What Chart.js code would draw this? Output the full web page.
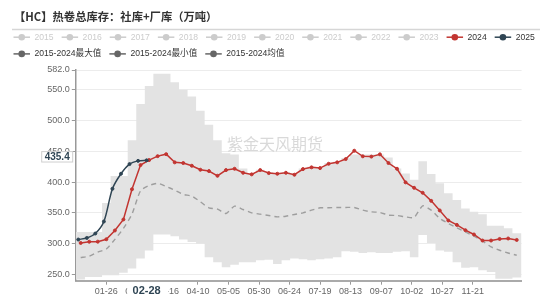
<!DOCTYPE html>
<html><head><meta charset="utf-8">
<script src="https://cdn.jsdelivr.net/npm/chart.js@4.4.1/dist/chart.umd.min.js"></script>
<style>html,body{margin:0;padding:0;background:#fff;overflow:hidden}canvas{display:block}</style>
</head><body>
<canvas id="c" width="550" height="299"></canvas>
<script>
const titleText = '【HC】热卷总库存：社库+厂库（万吨）';
const watermarkText = '紫金天风期货';
const legendRow1 = ['2015','2016','2017','2018','2019','2020','2021','2022','2023','2024','2025'];
const legendRow2 = ['2015-2024最大值','2015-2024最小值','2015-2024均值'];

const dates2024 = ['01-05','01-12','01-19','01-26','02-02','02-09','02-16','02-23','03-01','03-08','03-15','03-22','03-29',
  '04-05','04-12','04-19','04-26','05-03','05-10','05-17','05-24','05-31','06-07','06-14','06-21','06-28',
  '07-05','07-12','07-19','07-26','08-02','08-09','08-16','08-23','08-30','09-06','09-13','09-20','09-27',
  '10-04','10-11','10-18','10-25','11-01','11-08','11-15','11-22','11-29','12-06','12-13','12-20','12-27'];
const values2024 = [301.3,303.3,303.4,307.3,321.5,339.4,388.4,427.7,435.8,442.2,445.4,432.1,431.0,
  426.6,420.1,418.0,410.3,419.6,421.7,415.2,412.6,419.6,414.7,413.6,415.2,412.0,
  421.2,424.0,422.8,429.8,432.1,437.5,451.0,441.9,441.4,445.1,431.0,421.7,399.6,
  390.8,382.7,369.6,354.0,337.7,330.6,322.0,315.0,305.2,305.2,307.8,308.5,306.2];
const dates2025 = ['01-03','01-10','01-17','01-24','01-31','02-07','02-14','02-21','02-28'];
const values2025 = [306.8,309.4,316.6,336.1,389.2,413.6,429.3,434.5,435.4];
const maxValues = [319,319,319,366,410,410,468,527,556,576,576,562,550,
  539,516,493,468,447,445,422,414,420,416,415,416,414,
  422,425,424,431,433,439,445,445,445,445,440,422,414,
  404,434,413,398,382,371,357,352,348,329,329,325,317];
const minValues = [242,246,246,249,249,253,260,276,289,315,315,312,307,
  303,300,278,270,262,266,270,270,273,274,267,273,276,
  275,273,275,276,278,288,287,285,286,285,285,287,288,
  278,314,301,289,287,270,261,262,257,254,243,243,245];
const meanValues = [277.6,279.7,286.5,291.5,307.0,325.0,348.0,386.0,394.5,398.0,393.0,387.0,380.0,
  377.3,368.0,358.3,356.1,349.1,361.0,355.6,350.1,348.0,345.9,343.6,344.7,347.5,
  350.1,354.5,358.3,358.3,358.9,358.9,358.9,354.5,351.7,350.8,346.4,345.9,343.6,
  342.6,361.5,354.5,341.0,332.9,325.7,319.2,312.2,304.6,294.8,289.4,285.0,281.3];
const xTickLabels = ['01-26','02-20','03-16','04-10','05-05','05-30','06-24','07-19','08-13','09-07','10-02','10-27','11-21'];
const yTickValues = [250,300,350,400,450,500,550,582];
const yMin = 240, yMax = 582;
const pointerDate = '02-28', pointerValue = 435.4;

const RED = '#c23531', NAVY = '#2f4554', GREYL = '#cccccc', DARKICON = '#666666';
const FONT = '"Liberation Sans", Arial, "Noto Sans CJK SC", sans-serif';

function doy(md){ const p = md.split('-').map(Number); return (Date.UTC(2024,p[0]-1,p[1]) - Date.UTC(2024,0,1)) / 864e5; }
function pts(dates, vals){ return dates.map((d,i)=>({x:doy(d), y:vals[i]})); }
function band(vals){ const a = pts(dates2024, vals); return [{x:0,y:vals[0]}].concat(a, [{x:365,y:vals[vals.length-1]}]); }

const decor = {
  id: 'decor',
  beforeDraw(chart){
    const c = chart.ctx; c.save(); c.fillStyle = '#fff'; c.fillRect(0,0,chart.width,chart.height); c.restore();
  },
  afterDatasetsDraw(chart){
    const c = chart.ctx; c.save();
    c.font = '16px "Noto Sans CJK SC", sans-serif';
    c.fillStyle = 'rgba(170,170,170,0.45)';
    c.textBaseline = 'middle'; c.textAlign = 'left';
    c.fillText(watermarkText, 227, 143.5);
    c.restore();
  },
  afterDraw(chart){
    const c = chart.ctx; c.save();
    // title
    c.font = 'bold 11.3px "Noto Sans CJK SC", sans-serif';
    c.fillStyle = '#333'; c.textBaseline = 'middle'; c.textAlign = 'left';
    c.fillText(titleText, 14, 16.7);
    // separator
    c.strokeStyle = '#d6d6d6'; c.lineWidth = 1.5;
    c.beginPath(); c.moveTo(12, 29.4); c.lineTo(540, 29.4); c.stroke();
    // legend
    c.font = '8.6px ' + FONT;
    const drawRow = (items, y, colorFn, textColorFn) => {
      let x = 13.5;
      items.forEach((lab, i) => {
        const col = colorFn(i);
        c.strokeStyle = col; c.lineWidth = 1.5;
        c.beginPath(); c.moveTo(x, y); c.lineTo(x + 16.5, y); c.stroke();
        c.fillStyle = col; c.beginPath(); c.arc(x + 8.25, y, 3.3, 0, Math.PI*2); c.fill();
        c.fillStyle = textColorFn(i); c.textBaseline = 'middle';
        c.fillText(lab, x + 21, y);
        x += 21 + c.measureText(lab).width + 8.0;
      });
    };
    drawRow(legendRow1, 37.2, i => i === 9 ? RED : (i === 10 ? NAVY : GREYL), i => i >= 9 ? '#333' : GREYL);
    drawRow(legendRow2, 53.9, i => DARKICON, i => '#333');
    // axis pointer labels
    const xs = chart.scales.x, ys = chart.scales.y;
    const cx = xs.getPixelForValue(doy(pointerDate));
    c.fillStyle = '#fff'; c.fillRect(cx - 19.5, 282, 41, 17);
    c.font = 'bold 11px ' + FONT; c.fillStyle = NAVY; c.textAlign = 'center'; c.textBaseline = 'middle';
    c.fillText(pointerDate, cx, 290.7);
    const cy = ys.getPixelForValue(pointerValue) - 3.5;
    c.fillStyle = '#fff'; c.fillRect(41.7, cy - 5.2, 31, 10.4);
    c.strokeStyle = '#cfcfcf'; c.lineWidth = 1; c.strokeRect(41.7, cy - 5.2, 31, 10.4);
    c.font = 'bold 10px ' + FONT; c.fillStyle = NAVY;
    c.fillText(pointerValue.toFixed(1), 57.2, cy + 0.5);
    c.restore();
  }
};

new Chart(document.getElementById('c'), {
  type: 'line',
  data: { datasets: [
    { label: '2025', data: pts(dates2025, values2025), borderColor: NAVY, backgroundColor: NAVY,
      borderWidth: 1.5, pointRadius: 1.5, pointBorderWidth: 1, pointBorderColor: NAVY, tension: 0.3, order: 1, fill: false },
    { label: '2024', data: pts(dates2024, values2024), borderColor: RED, backgroundColor: RED,
      borderWidth: 1.5, pointRadius: 1.5, pointBorderWidth: 1, pointBorderColor: RED, tension: 0, order: 2, fill: false },
    { label: '2015-2024均值', data: pts(dates2024, meanValues), borderColor: '#9e9e9e', borderDash: [5,4],
      borderWidth: 1.4, pointRadius: 0, tension: 0.2, order: 5, fill: false },
    { label: '2015-2024最大值', data: band(maxValues), stepped: 'middle', borderWidth: 0, borderColor: 'rgba(0,0,0,0)',
      pointRadius: 0, fill: '+1', backgroundColor: '#e3e3e3', order: 10 },
    { label: '2015-2024最小值', data: band(minValues), stepped: 'middle', borderWidth: 0, borderColor: 'rgba(0,0,0,0)',
      pointRadius: 0, fill: false, order: 11 }
  ]},
  options: {
    responsive: false, animation: false, devicePixelRatio: 1, events: [],
    layout: { padding: { top: 70, right: 28.4, left: 0, bottom: 0 } },
    plugins: { legend: { display: false }, tooltip: { enabled: false }, title: { display: false } },
    scales: {
      x: {
        type: 'linear', min: 0, max: 365,
        afterBuildTicks: s => { s.ticks = xTickLabels.map(l => ({ value: doy(l) })); },
        afterFit: s => { s.height = 18.3; },
        ticks: { autoSkip: false, maxRotation: 0, padding: 1, color: '#666', font: { size: 9, family: FONT },
          callback: (v) => { const i = xTickLabels.findIndex(l => doy(l) === v); return i >= 0 ? xTickLabels[i] : ''; } },
        grid: { drawOnChartArea: false, drawTicks: true, tickLength: 4, tickColor: '#999', color: '#999' },
        border: { display: true, color: '#aaa', width: 2 }
      },
      y: {
        type: 'linear', min: yMin, max: yMax, z: 1,
        afterBuildTicks: s => { s.ticks = yTickValues.map(v => ({ value: v })); },
        afterFit: s => { s.width = 75.8; },
        ticks: { padding: 2, color: '#666', font: { size: 9, family: FONT }, callback: v => Number(v).toFixed(1) },
        grid: { color: '#ececec', lineWidth: 1, tickLength: 4, tickColor: '#999' },
        border: { display: true, color: '#999', width: 1.5 }
      }
    }
  },
  plugins: [decor]
});
</script>
</body></html>
